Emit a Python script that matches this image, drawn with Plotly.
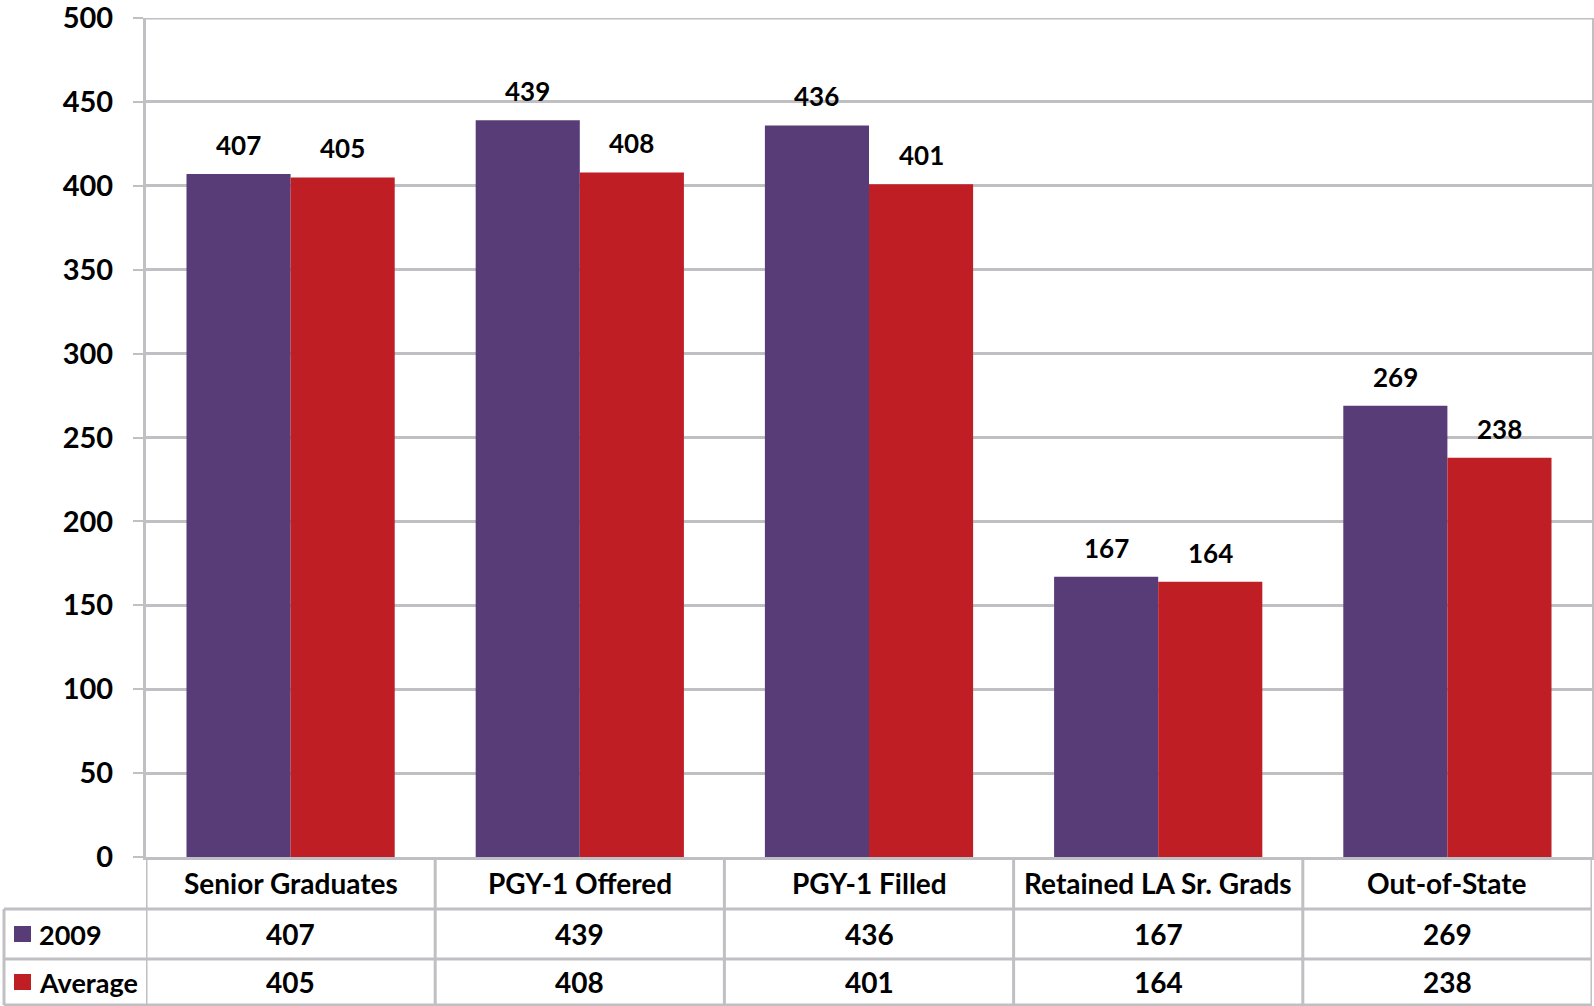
import plotly.graph_objects as go

categories = ["Senior Graduates", "PGY-1 Offered", "PGY-1 Filled",
              "Retained LA Sr. Grads", "Out-of-State"]
series_names = ["2009", "Average"]
values_2009 = [407, 439, 436, 167, 269]
values_avg = [405, 408, 401, 164, 238]
y_ticks = [0, 50, 100, 150, 200, 250, 300, 350, 400, 450, 500]

PURPLE = "#573C78"
RED = "#BE1E24"
GRID = "#C0C0C4"
FONT = "Lato"

W, H = 1594, 1006
ML, MR, MT, MB = 146, 2, 18, 149
PW, PH = W - ML - MR, H - MT - MB


def px_x(px):
    return (px - ML) / PW


def px_y(py):
    return (H - MB - py) / PH


def bold(size):
    return dict(family=FONT, size=size, color="black", weight="bold")


fig = go.Figure()
fig.add_trace(go.Bar(name=series_names[0], x=categories, y=values_2009,
                     marker=dict(color=PURPLE, line=dict(width=0))))
fig.add_trace(go.Bar(name=series_names[1], x=categories, y=values_avg,
                     marker=dict(color=RED, line=dict(width=0))))

bargap = 0.28
half = (1 - bargap) / 4  # offset of each bar centre from category centre

annotations = []
# value labels above bars
for i, (a, b) in enumerate(zip(values_2009, values_avg)):
    for off, v in ((-half, a), (half, b)):
        annotations.append(dict(x=i + off, y=v, xref="x", yref="y",
                                text=str(v), showarrow=False,
                                yanchor="bottom", yshift=11, font=bold(26)))

# data table rows (pixel positions)
row_top, row1, row2, row_bot = H - MB, 909, 959, 1005
header_c = (row_top + row1) / 2
r1_c = (row1 + row2) / 2
r2_c = (row2 + row_bot) / 2

for i, cat in enumerate(categories):
    for text, yc in ((cat, header_c), (str(values_2009[i]), r1_c),
                     (str(values_avg[i]), r2_c)):
        annotations.append(dict(x=i, y=px_y(yc), xref="x", yref="paper",
                                text=text, showarrow=False, yanchor="middle",
                                font=bold(28)))

for name, yc in ((series_names[0], r1_c), (series_names[1], r2_c)):
    annotations.append(dict(x=px_x(37), y=px_y(yc), xref="paper", yref="paper",
                            text=name, showarrow=False, xanchor="left",
                            yanchor="middle", font=bold(27)))

shapes = []
line = dict(color=GRID, width=3)
# horizontal table borders
for py in (row1, row2, row_bot):
    shapes.append(dict(type="line", xref="paper", yref="paper",
                       x0=px_x(4), x1=1, y0=px_y(py), y1=px_y(py), line=line))
# column borders
for k in range(len(categories) + 1):
    shapes.append(dict(type="line", xref="x", yref="paper",
                       x0=k - 0.5, x1=k - 0.5, y0=px_y(row_top),
                       y1=px_y(row_bot), line=line))
shapes.append(dict(type="line", xref="paper", yref="paper",
                   x0=px_x(4), x1=px_x(4), y0=px_y(row1), y1=px_y(row_bot),
                   line=line))
# top border of the plot area
shapes.append(dict(type="line", xref="paper", yref="y",
                   x0=0, x1=1, y0=500, y1=500, line=line))
# legend keys
for color, yc in ((PURPLE, r1_c), (RED, r2_c)):
    shapes.append(dict(type="rect", xref="paper", yref="paper",
                       x0=px_x(14), x1=px_x(31), y0=px_y(yc + 8), y1=px_y(yc - 8),
                       fillcolor=color, line=dict(width=0)))

fig.update_layout(
    width=W, height=H,
    margin=dict(l=ML, r=MR, t=MT, b=MB, autoexpand=False),
    paper_bgcolor="white", plot_bgcolor="white",
    barmode="group", bargap=bargap, bargroupgap=0,
    showlegend=False,
    annotations=annotations,
    shapes=shapes,
    xaxis=dict(type="category", range=[-0.5, len(categories) - 0.5],
               showticklabels=False, showgrid=False, ticks="",
               automargin=False,
               showline=True, linecolor=GRID, linewidth=3, zeroline=False),
    yaxis=dict(range=[0, 500.01], tickvals=y_ticks, showgrid=True,
               gridcolor=GRID, gridwidth=3, zeroline=False, automargin=False,
               showline=True, linecolor=GRID, linewidth=3, mirror=True,
               ticks="outside", ticklen=10, tickwidth=2, tickcolor=GRID,
               ticklabelstandoff=14, ticklabeloverflow="allow",
               tickfont=bold(29)),
)

fig.write_html("out.html")
